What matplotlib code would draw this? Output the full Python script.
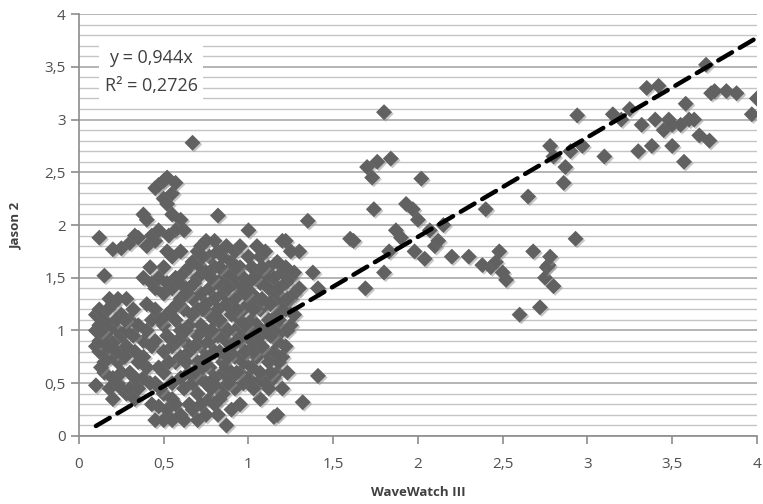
import numpy as np
import matplotlib
matplotlib.use('Agg')
import matplotlib.pyplot as plt
from matplotlib.ticker import MultipleLocator, FuncFormatter
import matplotlib.patheffects as pe

# 密集区 (WaveWatch III < 1.45)
ww_low = (
    [0.10] * 4 + [0.12] * 5 + [0.15] * 5 + [0.18] * 5 + [0.20] * 5 + [0.23] * 4 +
    [0.25] * 5 + [0.28] * 4 + [0.30] * 4 + [0.33] * 4 + [0.35] * 4 + [0.38] * 5 +
    [0.40] * 5 + [0.43] * 5 + [0.45] * 7 + [0.47] * 5 + [0.50] * 9 + [0.52] * 7 +
    [0.55] * 9 + [0.57] * 6 + [0.60] * 8 + [0.62] * 6 + [0.65] * 6 + [0.67] * 6 +
    [0.70] * 7 + [0.72] * 7 + [0.75] * 7 + [0.77] * 6 + [0.80] * 7 + [0.82] * 7 +
    [0.85] * 7 + [0.87] * 6 + [0.90] * 6 + [0.92] * 6 + [0.95] * 7 + [0.97] * 5 +
    [1.00] * 7 + [1.02] * 5 + [1.05] * 6 + [1.07] * 6 + [1.10] * 6 + [1.12] * 5 +
    [1.15] * 6 + [1.17] * 6 + [1.20] * 6 + [1.22] * 5 + [1.25] * 4 + [1.27] * 3 +
    [1.30] * 2 + [1.35, 1.32, 1.38, 1.41, 1.41]
)
jason_low = [
    0.48, 0.85, 1.15, 1.00,
    1.88, 1.20, 0.80, 0.90, 1.05,
    1.52, 0.70, 0.95, 1.10, 0.60,
    1.30, 0.75, 1.05, 0.45, 1.00,
    1.77, 1.25, 0.88, 0.55, 0.35,
    1.30, 1.00, 0.70, 0.50,
    1.78, 1.15, 0.95, 0.60, 0.45,
    1.30, 1.00, 0.85, 0.40,
    1.83, 0.60, 0.45, 1.10,
    0.80, 0.55, 0.35, 1.90,
    1.88, 1.05, 0.70, 0.45,
    2.10, 1.50, 0.75, 0.55, 0.90,
    2.05, 1.80, 1.25, 1.00, 0.65,
    1.90, 1.45, 0.85, 1.10, 0.30,
    2.35, 1.85, 1.40, 1.20, 0.90, 0.15, 0.50,
    2.38, 1.95, 1.50, 0.65, 0.28,
    2.42, 2.25, 1.60, 1.35, 1.05, 0.80, 0.40, 0.15, 0.60,
    2.45, 2.20, 1.75, 1.45, 1.15, 0.95, 0.25,
    2.30, 2.10, 1.70, 1.40, 1.20, 0.85, 0.50, 0.15, 0.35,
    2.40, 1.95, 1.50, 1.10, 0.70, 0.30,
    2.05, 1.75, 1.45, 1.30, 1.00, 0.75, 0.55, 0.20,
    1.95, 1.55, 1.20, 0.90, 0.45, 0.15,
    1.60, 1.40, 1.05, 0.80, 0.60, 0.30,
    2.78, 1.65, 1.30, 1.15, 0.50, 0.25,
    1.75, 1.50, 1.20, 0.95, 0.70, 0.40, 0.15,
    1.80, 1.60, 1.35, 1.05, 0.85, 0.55, 0.30,
    1.85, 1.55, 1.25, 1.00, 0.75, 0.50, 0.20,
    1.70, 1.40, 1.15, 0.90, 0.65, 0.35,
    1.85, 1.60, 1.30, 1.10, 0.80, 0.55, 0.30,
    2.09, 1.75, 1.45, 1.20, 0.95, 0.45, 0.20,
    1.70, 1.50, 1.35, 1.05, 0.70, 0.40, 0.60,
    1.80, 1.55, 1.25, 0.90, 0.65, 0.10,
    1.65, 1.45, 1.15, 0.85, 0.55, 0.25,
    1.75, 1.50, 1.30, 1.00, 0.75, 0.45,
    1.80, 1.60, 1.40, 1.10, 0.90, 0.60, 0.30,
    1.50, 1.20, 0.95, 0.70, 0.50,
    1.95, 1.70, 1.45, 1.25, 1.00, 0.80, 0.55,
    1.60, 1.35, 1.10, 0.90, 0.65,
    1.80, 1.55, 1.30, 1.05, 0.75, 0.50,
    1.70, 1.45, 1.20, 0.95, 0.60, 0.35,
    1.75, 1.50, 1.25, 1.00, 0.80, 0.50,
    1.60, 1.40, 1.10, 0.70, 0.45,
    1.50, 1.30, 1.00, 0.80, 0.55, 0.18,
    1.65, 1.35, 1.15, 0.90, 0.60, 0.20,
    1.85, 1.55, 1.25, 1.00, 0.75, 0.45,
    1.85, 1.60, 1.45, 1.20, 0.85,
    1.75, 1.50, 1.30, 1.05,
    1.55, 1.35, 1.15,
    1.75, 1.40,
    2.04, 0.32, 1.55, 1.40, 0.57,
]

# 密集区补充点
ww_fill = [
    0.63, 0.63, 0.63, 0.68, 0.68, 0.68, 0.73, 0.73, 0.73, 0.78, 0.78, 0.78,
    0.83, 0.83, 0.83, 0.83, 0.88, 0.88, 0.88, 0.88, 0.93, 0.93, 0.93, 0.93,
    0.98, 0.98, 0.98, 1.03, 1.03, 1.03, 1.03, 1.08, 1.08, 1.08, 1.13, 1.13,
    1.13, 1.18, 1.18, 1.18, 1.23, 1.23, 1.23, 0.13, 0.13, 0.17, 0.17, 0.22,
    0.22, 0.27, 0.27, 0.32, 0.32, 0.42, 0.42, 0.48, 0.48, 0.53, 0.53, 0.58,
    0.58,
]
jason_fill = [
    1.35, 1.00, 0.70, 1.45, 0.85, 0.60, 1.20, 0.65, 1.70, 1.50, 1.00, 0.45,
    1.60, 1.10, 0.80, 0.35, 1.40, 1.00, 0.75, 0.50, 1.60, 1.20, 0.90, 0.60,
    1.35, 1.05, 0.80, 1.50, 1.20, 0.80, 0.45, 1.60, 1.30, 0.85, 1.25, 0.95,
    0.60, 1.40, 1.10, 0.70, 1.30, 1.00, 0.60, 1.00, 0.65, 0.85, 1.20, 1.10,
    0.80, 0.75, 1.10, 0.95, 1.20, 0.50, 1.60, 1.10, 0.45, 0.70, 1.90, 1.25,
    0.90,
]

# 稀疏区 (WaveWatch III > 1.5)
ww_high = [
    1.60, 1.62, 1.69, 1.70, 1.73, 1.74, 1.76, 1.80, 1.80, 1.83, 1.84, 1.87,
    1.90, 1.93, 1.97, 1.98, 2.00, 2.02, 2.04, 2.07, 2.10, 2.12, 2.15, 2.20,
    2.30, 2.38, 2.40, 2.43, 2.46, 2.48, 2.50, 2.52, 2.60, 2.65, 2.68, 2.72,
    2.75, 2.76, 2.77, 2.78, 2.80, 2.78, 2.80, 2.86, 2.87, 2.90, 2.93, 2.94,
    2.97, 3.10, 3.15, 3.20, 3.25, 3.30, 3.32, 3.35, 3.38, 3.40, 3.42, 3.45,
    3.48, 3.50, 3.50, 3.55, 3.57, 3.58, 3.60, 3.63, 3.66, 3.70, 3.72, 3.73,
    3.75, 3.82, 3.88, 3.97, 4.00,
]
jason_high = [
    1.87, 1.85, 1.40, 2.55, 2.45, 2.15, 2.60, 3.07, 1.55, 1.75, 2.63, 1.95,
    1.88, 2.20, 2.15, 1.75, 2.05, 2.44, 1.68, 1.95, 1.80, 1.85, 2.00, 1.70,
    1.70, 1.62, 2.15, 1.60, 1.65, 1.75, 1.55, 1.48, 1.15, 2.27, 1.75, 1.22,
    1.50, 1.60, 1.62, 1.70, 1.42, 2.75, 2.65, 2.40, 2.55, 2.70, 1.87, 3.04,
    2.75, 2.65, 3.05, 3.00, 3.10, 2.70, 2.95, 3.30, 2.75, 3.00, 3.32, 2.90,
    3.00, 2.75, 2.95, 2.95, 2.60, 3.15, 3.00, 3.00, 2.85, 3.52, 2.80, 3.25,
    3.27, 3.27, 3.25, 3.05, 3.20,
]

slope = 0.944
r2 = 0.2726
trend_x = [0.1, 4.0]

plt.rcParams['font.family'] = ['Open Sans', 'DejaVu Sans']

fig = plt.figure(figsize=(7.63, 5.04), dpi=100)
ax = fig.add_axes([0.1035, 0.135, 0.8885, 0.837])

ax.set_xlim(0, 4)
ax.set_ylim(0, 4)

ax.yaxis.set_major_locator(MultipleLocator(0.5))
ax.yaxis.set_minor_locator(MultipleLocator(0.1))
ax.xaxis.set_major_locator(MultipleLocator(0.5))
ax.grid(axis='y', which='minor', color='#c4c4c4', linewidth=1.0)
ax.grid(axis='y', which='major', color='#a8a8a8', linewidth=1.2)
ax.set_axisbelow(True)

fmt = FuncFormatter(lambda v, p: ('%g' % v).replace('.', ','))
ax.xaxis.set_major_formatter(fmt)
ax.yaxis.set_major_formatter(fmt)

for s in ['top', 'right']:
    ax.spines[s].set_visible(False)
for s in ['left', 'bottom']:
    ax.spines[s].set_color('#8c8c8c')
    ax.spines[s].set_linewidth(1.2)
ax.tick_params(which='major', length=6, width=1.2, color='#8c8c8c',
               labelcolor='#505050', labelsize=11)
ax.tick_params(axis='y', which='minor', length=0)
ax.tick_params(axis='x', pad=9)

x_all = np.array(ww_low + ww_fill + ww_high)
y_all = np.array(jason_low + jason_fill + jason_high)
sc = ax.scatter(x_all, y_all, marker='D', s=66, color='#616161',
                edgecolors='none', zorder=3)
sc.set_path_effects([pe.withSimplePatchShadow(offset=(1.2, -1.2),
                                              shadow_rgbFace='#909090', alpha=0.5)])

tx = np.array(trend_x)
ax.plot(tx, slope * tx, color='black', linestyle=(0, (3.6, 2.0)),
        linewidth=3.2, dash_capstyle='round', zorder=4)

ax.text(0.425, 3.45, 'y = 0,944x\nR² = 0,2726', ha='center', va='center',
        fontsize=13, color='#404040', linespacing=1.75, zorder=5,
        bbox=dict(facecolor='white', edgecolor='none', pad=4))

ax.set_xlabel('WaveWatch III', fontsize=9.5, fontweight='bold', color='#404040',
              labelpad=10)
ax.set_ylabel('Jason 2', fontsize=9.5, fontweight='bold', color='#404040',
              labelpad=16)

plt.savefig('out.png', dpi=100)
